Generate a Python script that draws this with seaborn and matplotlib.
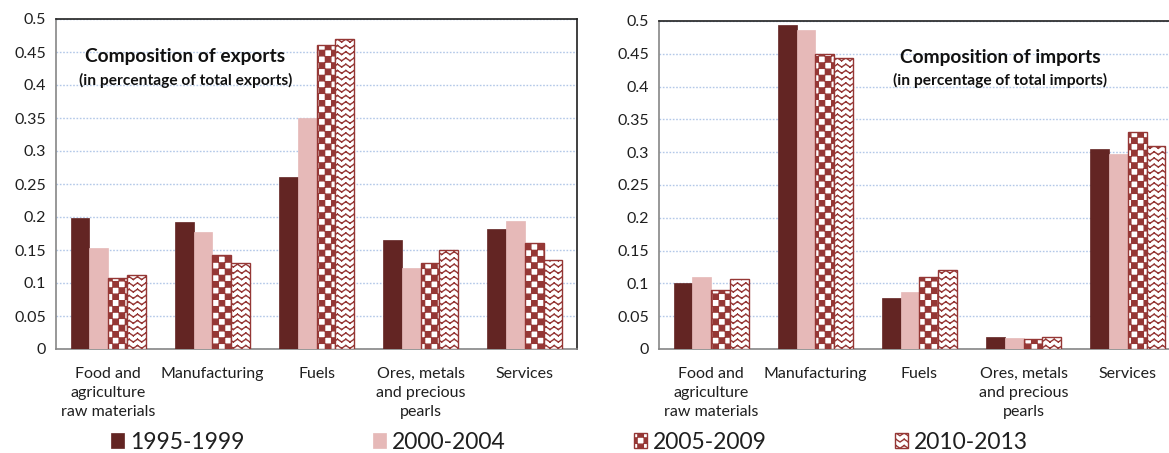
import numpy as np
import pandas as pd
import matplotlib
matplotlib.use("Agg")
import matplotlib.pyplot as plt
import matplotlib.hatch as mhatch
from matplotlib.path import Path
import seaborn as sns

# ---------------- data ----------------
categories = ["Food and\nagriculture\nraw materials", "Manufacturing", "Fuels",
              "Ores, metals\nand precious\npearls", "Services"]
periods = ["1995-1999", "2000-2004", "2005-2009", "2010-2013"]

exports_1995_1999 = [0.198, 0.193, 0.260, 0.165, 0.182]
exports_2000_2004 = [0.153, 0.178, 0.350, 0.122, 0.194]
exports_2005_2009 = [0.108, 0.143, 0.460, 0.130, 0.160]
exports_2010_2013 = [0.112, 0.130, 0.470, 0.150, 0.135]

imports_1995_1999 = [0.101, 0.494, 0.078, 0.019, 0.305]
imports_2000_2004 = [0.109, 0.487, 0.087, 0.017, 0.298]
imports_2005_2009 = [0.090, 0.450, 0.110, 0.016, 0.331]
imports_2010_2013 = [0.106, 0.444, 0.120, 0.019, 0.310]

yticks = [0, 0.05, 0.1, 0.15, 0.2, 0.25, 0.3, 0.35, 0.4, 0.45, 0.5]


# ---------------- custom hatch patterns (checker + wave) ----------------
class CheckerHatch(mhatch.HatchPatternBase):
    """Checkerboard, triggered by 'o'."""
    def __init__(self, hatch, density):
        c = hatch.count('o')
        self.n = 16 * c
        self.num_vertices = (self.n * self.n // 2) * 5 if c else 0

    def set_vertices_and_codes(self, vertices, codes):
        n = self.n
        s = 1.0 / n
        e = 0.004
        k = 0
        for i in range(n):
            for j in range(n):
                if (i + j) % 2 == 0:
                    x0, y0 = i * s + e, j * s + e
                    x1, y1 = (i + 1) * s - e, (j + 1) * s - e
                    vertices[k:k + 5] = [[x0, y0], [x1, y0], [x1, y1], [x0, y1], [x0, y0]]
                    codes[k:k + 5] = [Path.MOVETO, Path.LINETO, Path.LINETO,
                                      Path.LINETO, Path.CLOSEPOLY]
                    k += 5


class WaveHatch(mhatch.HatchPatternBase):
    """Horizontal zig-zag waves, triggered by 'O'."""
    def __init__(self, hatch, density):
        c = hatch.count('O')
        self.rows = 16 * c
        self.periods = 12
        self.num_vertices = self.rows * self.periods * 4 if c else 0

    def set_vertices_and_codes(self, vertices, codes):
        amp = 0.014
        k = 0
        for r in range(self.rows):
            y = (r + 0.5) / self.rows
            for p in range(self.periods):
                x0 = p / self.periods
                xm = x0 + 0.5 / self.periods
                x1 = x0 + 1.0 / self.periods
                vertices[k:k + 4] = [[x0, y - amp], [xm, y + amp], [xm, y + amp], [x1, y - amp]]
                codes[k:k + 4] = [Path.MOVETO, Path.LINETO, Path.MOVETO, Path.LINETO]
                k += 4


mhatch._hatch_types = [t for t in mhatch._hatch_types
                       if t not in (mhatch.SmallCircles, mhatch.LargeCircles)]
mhatch._hatch_types += [CheckerHatch, WaveHatch]

# ---------------- style ----------------
sns.set_theme(style="white")
plt.rcParams['font.family'] = ['Lato', 'DejaVu Sans']
plt.rcParams['hatch.linewidth'] = 1.0
text_col = '#1f1f1f'
dark = '#632523'
pink = '#E6B9B8'
mid = '#953735'

face_cols = [dark, pink, 'white', 'white']
edge_cols = [dark, pink, mid, mid]
hatches = [None, None, 'o', 'O']
palette = dict(zip(periods, face_cols))


def make_df(series):
    rows = []
    for per, vals in zip(periods, series):
        for cat, v in zip(categories, vals):
            rows.append({"category": cat, "period": per, "share": v})
    return pd.DataFrame(rows)


df_exp = make_df([exports_1995_1999, exports_2000_2004, exports_2005_2009, exports_2010_2013])
df_imp = make_df([imports_1995_1999, imports_2000_2004, imports_2005_2009, imports_2010_2013])

fig = plt.figure(figsize=(11.69, 4.53), dpi=100)
ax1 = fig.add_axes([56 / 1169, 104 / 453, 521 / 1169, 330 / 453])
ax2 = fig.add_axes([659 / 1169, 104 / 453, 521 / 1169, 328 / 453])


def draw(ax, df, title, subtitle, tx, ty):
    sns.barplot(data=df, x="category", y="share", hue="period", order=categories,
                hue_order=periods, palette=palette, width=0.72, gap=0, saturation=1,
                legend=False, errorbar=None, ax=ax)
    for i, cont in enumerate(ax.containers):
        for p in cont:
            p.set_edgecolor(edge_cols[i])
            p.set_linewidth(1.0 if hatches[i] else 0.5)
            if hatches[i]:
                p.set_hatch(hatches[i])
            p.set_zorder(3)
    ax.set_xlim(-0.5, 4.5)
    ax.set_ylim(0, 0.5)
    ax.set_yticks(yticks)
    ax.set_yticklabels([f"{v:g}" for v in yticks])
    ax.set_xlabel("")
    ax.set_ylabel("")
    ax.yaxis.grid(True, linestyle=(0, (1.2, 1.2)), color='#b3c8e8', linewidth=1.0, zorder=0)
    ax.xaxis.grid(False)
    ax.set_axisbelow(True)
    ax.set_xticks(np.arange(-0.5, 5.0, 1.0), minor=True)
    ax.tick_params(axis='x', which='major', length=0, pad=13, labelsize=11.5, colors=text_col)
    ax.tick_params(axis='x', which='minor', length=5, width=1, color='#868686', direction='out')
    ax.tick_params(axis='y', which='major', length=4, width=1, color='#868686', direction='out',
                   labelsize=11.5, labelcolor=text_col, pad=3)
    for side in ['left', 'bottom']:
        ax.spines[side].set_color('#868686')
        ax.spines[side].set_linewidth(1.2)
    for side in ['top', 'right']:
        ax.spines[side].set_color('#202020')
        ax.spines[side].set_linewidth(1.2)
        ax.spines[side].set_visible(True)
    for lab in ax.get_xticklabels():
        lab.set_horizontalalignment('center')
        lab.set_multialignment('center')
        lab.set_linespacing(1.45)
    ax.text(tx, ty, title, transform=ax.transAxes, ha='center', va='center',
            fontsize=13.8, fontweight='bold', color='#111111')
    ax.text(tx, ty - 0.072, subtitle, transform=ax.transAxes, ha='center', va='center',
            fontsize=11.2, fontweight='bold', color='#111111')


draw(ax1, df_exp, "Composition of exports", "(in percentage of total exports)", 0.248, 0.885)
draw(ax2, df_imp, "Composition of imports", "(in percentage of total imports)", 0.655, 0.89)

fig.legend(handles=ax1.containers, labels=periods, ncol=4, loc='center',
           bbox_to_anchor=(0.487, 0.024), frameon=False, fontsize=16.5,
           handlelength=0.57, handleheight=0.57, handletextpad=0.25,
           columnspacing=5.6, labelcolor=text_col, borderaxespad=0)

fig.savefig("out.png", dpi=100)
